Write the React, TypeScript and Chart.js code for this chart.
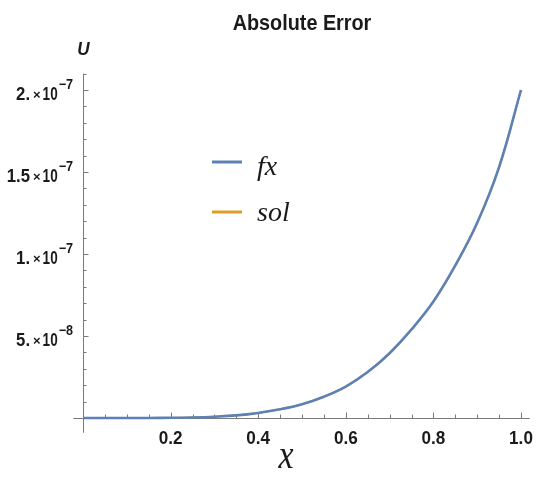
import React, { useEffect, useRef } from "react";
import { Chart, registerables } from "chart.js";

Chart.register(...registerables);

const chartTitle = "Absolute Error";
const xAxisLabel = "x";
const yAxisLabel = "U";
const seriesNames = ["fx", "sol"];
const seriesColors = ["#5E81B5", "#E19C24"];

const xValues = [0, 0.05, 0.1, 0.15, 0.2, 0.25, 0.3, 0.35, 0.4, 0.45, 0.5, 0.55, 0.6, 0.65, 0.7, 0.75, 0.8, 0.85, 0.9, 0.95, 1.0];
const fxValues = [0, 0, 1e-11, 4e-11, 1.2e-10, 3.4e-10, 8e-10, 1.6e-9, 3.1e-9, 5.3e-9, 8.4e-9, 1.3e-8, 1.92e-8, 2.8e-8, 3.95e-8, 5.4e-8, 7.1e-8, 9.3e-8, 1.19e-7, 1.53e-7, 2.0e-7];
const solValues = [0, 0, 1e-11, 4e-11, 1.2e-10, 3.4e-10, 8e-10, 1.6e-9, 3.1e-9, 5.3e-9, 8.4e-9, 1.3e-8, 1.92e-8, 2.8e-8, 3.95e-8, 5.4e-8, 7.1e-8, 9.3e-8, 1.19e-7, 1.53e-7, 2.0e-7];

const xTickValues = [0.2, 0.4, 0.6, 0.8, 1.0];
const xTickLabels = ["0.2", "0.4", "0.6", "0.8", "1.0"];
const yTickValues = [5e-8, 1e-7, 1.5e-7, 2e-7];
const yTickMantissas = ["5.", "1.", "1.5", "2."];
const yTickExponents = ["\u22128", "\u22127", "\u22127", "\u22127"];

const SANS = '"Liberation Sans", Arial, sans-serif';
const SERIF = '"Liberation Serif", "DejaVu Serif", serif';

function condText(ctx: any, text: string, x: number, y: number, sx: number, align: "left" | "center" | "right") {
  const w = ctx.measureText(text).width * sx;
  let left = x;
  if (align === "center") left = x - w / 2;
  else if (align === "right") left = x - w;
  ctx.save();
  ctx.translate(left, y);
  ctx.scale(sx, 1);
  ctx.textAlign = "left";
  ctx.fillText(text, 0, 0);
  ctx.restore();
  return w;
}

const decorPlugin = {
  id: "decor",
  beforeDatasetsDraw(chart: any) {
    const ctx = chart.ctx;
    const xs = chart.scales.x;
    const ys = chart.scales.y;
    const x0 = Math.round(xs.getPixelForValue(0)) + 0.5;
    const y0 = Math.round(ys.getPixelForValue(0)) + 0.5;
    ctx.save();
    ctx.strokeStyle = "#7a7a7a";
    ctx.lineWidth = 1;
    ctx.beginPath();
    ctx.moveTo(x0, ys.getPixelForValue(-0.09e-7));
    ctx.lineTo(x0, ys.getPixelForValue(2.1e-7));
    ctx.moveTo(xs.getPixelForValue(-0.022), y0);
    ctx.lineTo(xs.getPixelForValue(1.02), y0);
    for (let k = 1; k <= 21; k++) {
      const py = Math.round(ys.getPixelForValue(k * 1e-8)) + 0.5;
      const len = k % 5 === 0 ? 5 : 3;
      ctx.moveTo(x0, py);
      ctx.lineTo(x0 + len, py);
    }
    for (let k = 1; k <= 20; k++) {
      const px = Math.round(xs.getPixelForValue(k * 0.05)) + 0.5;
      const len = k % 4 === 0 ? 6 : 4;
      ctx.moveTo(px, y0);
      ctx.lineTo(px, y0 - len);
    }
    ctx.stroke();
    ctx.restore();
  },
  afterDatasetsDraw(chart: any) {
    const ctx = chart.ctx;
    const xs = chart.scales.x;
    const ys = chart.scales.y;
    ctx.save();
    ctx.fillStyle = "#1a1a1a";
    ctx.textBaseline = "alphabetic";
    // title
    ctx.font = `bold 22px ${SANS}`;
    condText(ctx, chartTitle, 302, 30, 0.9, "center");
    // U label
    ctx.font = `italic bold 19px ${SANS}`;
    condText(ctx, yAxisLabel, 83.5, 55, 0.9, "center");
    // x tick labels
    ctx.font = `bold 18px ${SANS}`;
    xTickValues.forEach((v, i) => {
      condText(ctx, xTickLabels[i], xs.getPixelForValue(v), 444, 0.95, "center");
    });
    // y tick labels
    const parts0 = [
      { f: `bold 18px ${SANS}`, sx: 0.93, dy: 0, gap: 3 },
      { f: `bold 13px ${SANS}`, sx: 1, dy: -1, gap: 2 },
      { f: `bold 18px ${SANS}`, sx: 0.75, dy: 0, gap: 1 },
      { f: `bold 14px ${SANS}`, sx: 0.9, dy: -11, gap: 0 },
    ];
    yTickValues.forEach((v, i) => {
      const py = ys.getPixelForValue(v);
      const base = py + 10;
      const texts = [yTickMantissas[i], "\u00d7", "10", yTickExponents[i]];
      let total = 0;
      parts0.forEach((p, j) => {
        ctx.font = p.f;
        total += ctx.measureText(texts[j]).width * p.sx + (j < 3 ? p.gap : 0);
      });
      let cx = 73 - total;
      parts0.forEach((p, j) => {
        ctx.font = p.f;
        const w = condText(ctx, texts[j], cx, base + p.dy, p.sx, "left");
        cx += w + p.gap;
      });
    });
    // x axis label
    ctx.font = `italic 40px ${SERIF}`;
    condText(ctx, xAxisLabel, 286, 468, 0.85, "center");
    // legend
    const legendRows = [
      { y: 162, base: 175 },
      { y: 212, base: 221 },
    ];
    legendRows.forEach((r, i) => {
      ctx.strokeStyle = seriesColors[i];
      ctx.lineWidth = 3;
      ctx.beginPath();
      ctx.moveTo(212, r.y);
      ctx.lineTo(242, r.y);
      ctx.stroke();
      ctx.fillStyle = "#1a1a1a";
      ctx.font = `italic 28px ${SERIF}`;
      condText(ctx, seriesNames[i], 257, r.base, 1, "left");
    });
    ctx.restore();
  },
};

export default function App() {
  const canvasRef = useRef<HTMLCanvasElement | null>(null);
  useEffect(() => {
    const canvas = canvasRef.current;
    if (!canvas) return;
    const chart = new Chart(canvas, {
      type: "line",
      data: {
        datasets: [
          {
            label: seriesNames[0],
            data: xValues.map((x, i) => ({ x, y: fxValues[i] })),
            borderColor: seriesColors[0],
            borderWidth: 2.6,
            pointRadius: 0,
            tension: 0.4,
            clip: false as any,
            order: 0,
          },
          {
            label: seriesNames[1],
            data: xValues.map((x, i) => ({ x, y: solValues[i] })),
            borderColor: seriesColors[1],
            borderWidth: 1.8,
            pointRadius: 0,
            tension: 0.4,
            clip: false as any,
            order: 1,
          },
        ],
      },
      options: {
        responsive: false,
        animation: false,
        layout: { padding: { left: 83, right: 29, top: 90, bottom: 67 } },
        scales: {
          x: { type: "linear", min: 0, max: 1, display: false },
          y: { type: "linear", min: 0, max: 2e-7, display: false },
        },
        plugins: {
          legend: { display: false },
          tooltip: { enabled: false },
          title: { display: false },
        },
      },
      plugins: [decorPlugin],
    });
    return () => chart.destroy();
  }, []);
  return (
    <div style={{ position: "absolute", left: 0, top: 0, width: 550, height: 485, background: "#ffffff" }}>
      <canvas ref={canvasRef} width={550} height={485} style={{ display: "block" }} />
    </div>
  );
}
